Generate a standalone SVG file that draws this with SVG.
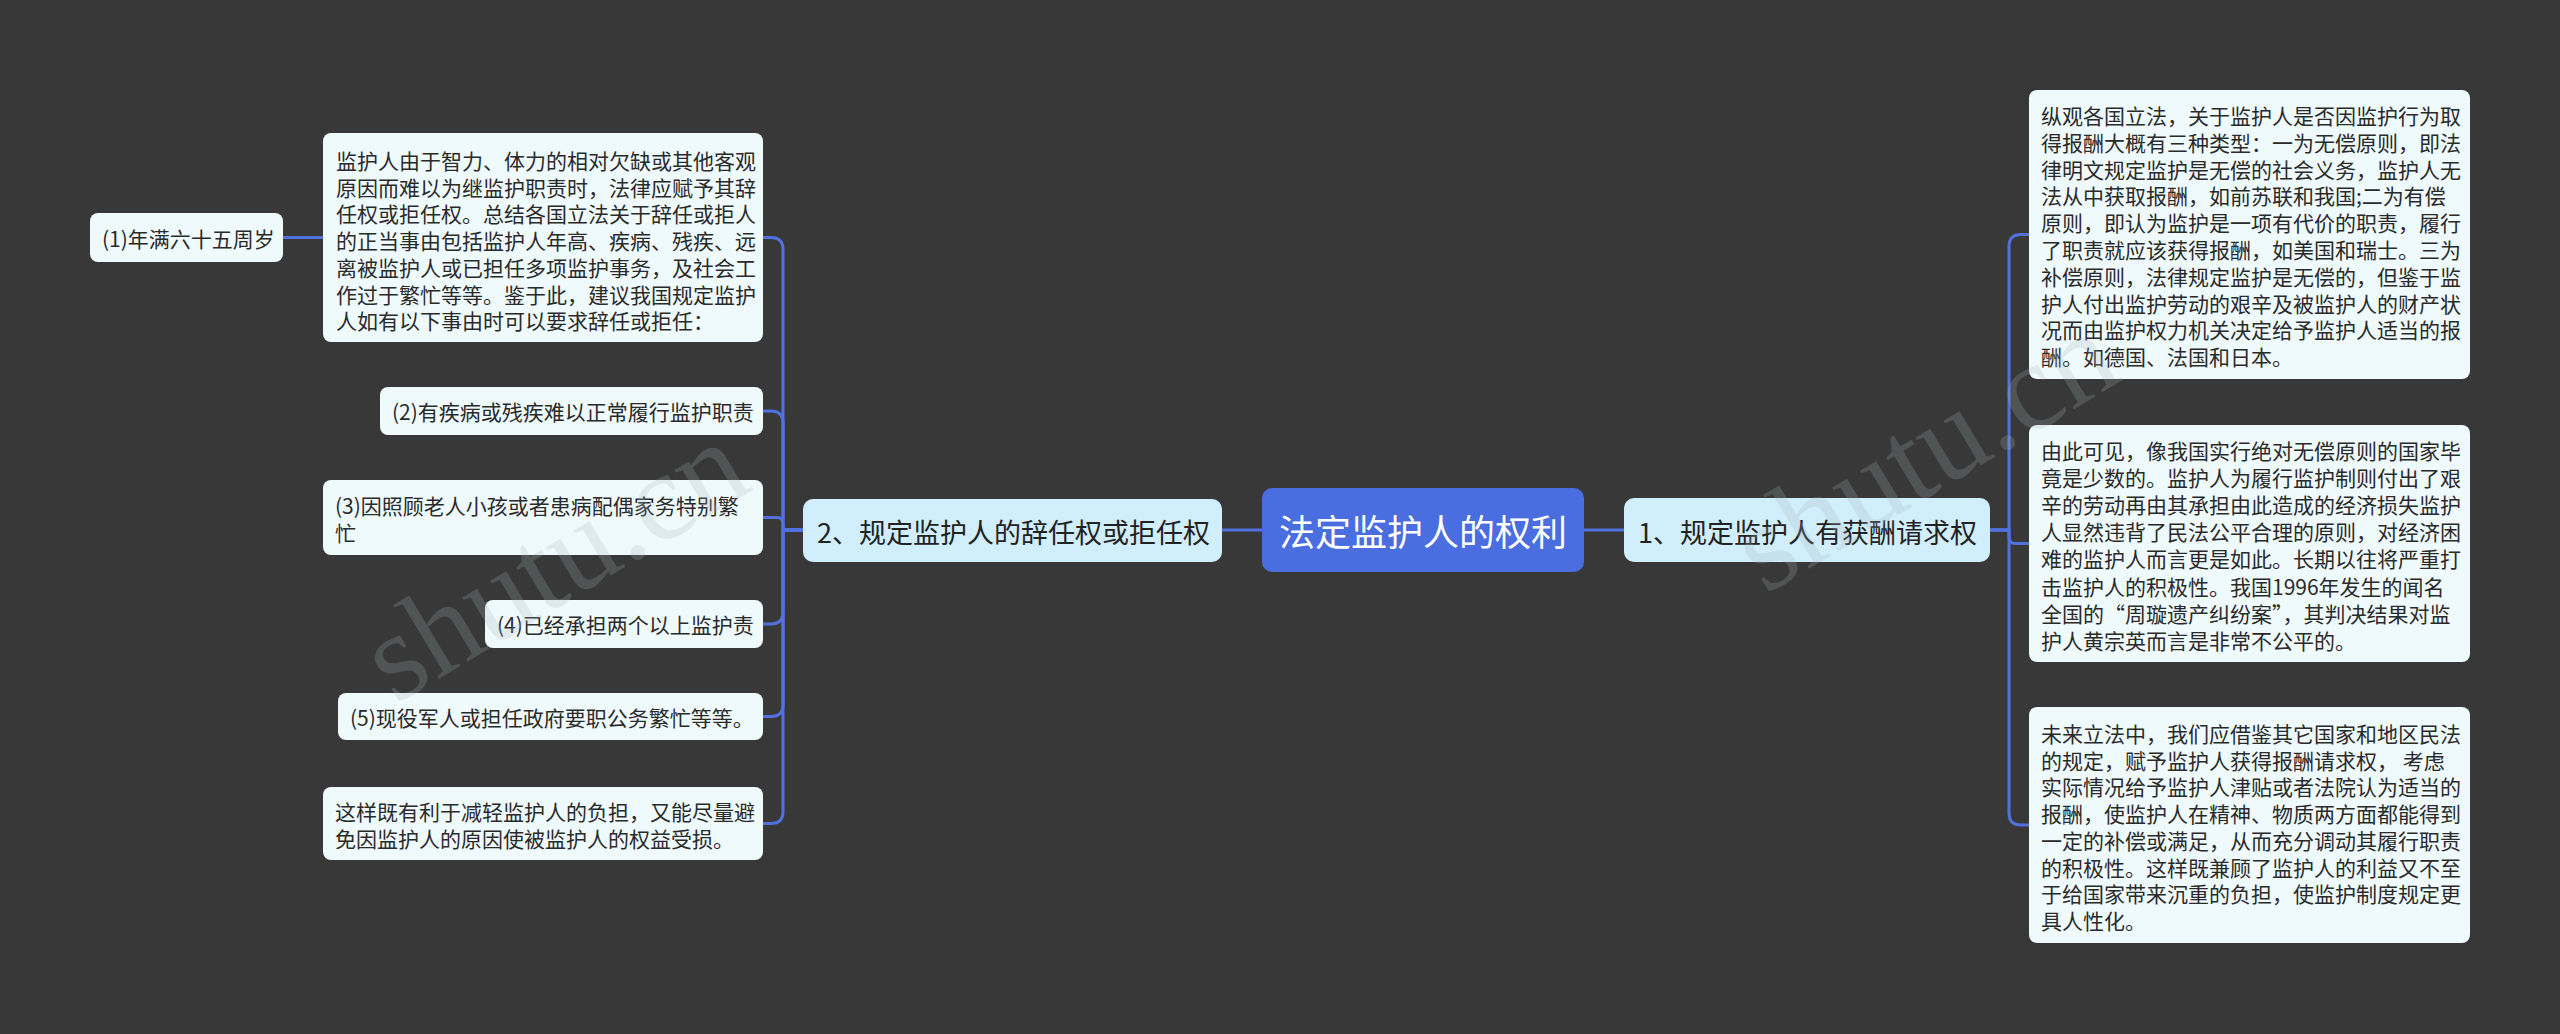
<svg xmlns="http://www.w3.org/2000/svg" width="2560" height="1034" viewBox="0 0 2560 1034">
<style>
.leaf{fill:#effafd}
.l1{fill:#d0eefb}
.root{fill:#4a6ee0}
.t{font-family:"Noto Sans CJK SC","Noto Sans",sans-serif;font-size:21px;fill:#2a2a2a;dominant-baseline:central}
.t1{font-family:"Noto Sans CJK SC","Noto Sans",sans-serif;font-size:27px;fill:#222;dominant-baseline:central}
.t0{font-family:"Noto Sans CJK SC","Noto Sans",sans-serif;font-size:36px;fill:#fff;dominant-baseline:central;text-anchor:middle}
.conn path{fill:none;stroke:#5271e0;stroke-width:3}
.wm{font-family:"Liberation Serif",serif;font-size:125px;fill:#a8b6ba;opacity:0.22}
</style>
<rect width="2560" height="1034" fill="#383838"/>
<g id="connectors" class="conn">
<path d="M1262 530 H1222"/>
<path d="M1584 530 H1624"/>
<path d="M323 237.5 H283"/>
<path d="M803 530 H783 V249.5 Q783 237.5 771 237.5 H763"/>
<path d="M803 530 H783 V423 Q783 411 771 411 H763"/>
<path d="M803 530 H783 V523.5 Q783 517.5 777 517.5 H763"/>
<path d="M803 530 H783 V612 Q783 624 771 624 H763"/>
<path d="M803 530 H783 V704.5 Q783 716.5 771 716.5 H763"/>
<path d="M803 530 H783 V811.5 Q783 823.5 771 823.5 H763"/>
<path d="M1990 530 H2009 V246.5 Q2009 234.5 2021 234.5 H2029"/>
<path d="M1990 530 H2009 V537 Q2009 543.5 2015.5 543.5 H2029"/>
<path d="M1990 530 H2009 V813 Q2009 825 2021 825 H2029"/>
</g>
<g id="root">
<rect class="root" x="1262" y="488" width="322" height="84" rx="10"/>
<text class="t0" x="1423" y="530">法定监护人的权利</text>
</g>
<g id="n2">
<rect class="l1" x="803" y="499" width="419" height="63" rx="10"/>
<text class="t1" x="817" y="531">2、规定监护人的辞任权或拒任权</text>
</g>
<g id="n1">
<rect class="l1" x="1624" y="498" width="366" height="64" rx="10"/>
<text class="t1" x="1638" y="531">1、规定监护人有获酬请求权</text>
</g>
<g id="n2-desc">
<rect class="leaf" x="323" y="133" width="440" height="209" rx="8"/>
<text class="t"><tspan x="336" y="160">监护人由于智力、体力的相对欠缺或其他客观</tspan><tspan x="336" y="186.7">原因而难以为继监护职责时，法律应赋予其辞</tspan><tspan x="336" y="213.4">任权或拒任权。总结各国立法关于辞任或拒人</tspan><tspan x="336" y="240.1">的正当事由包括监护人年高、疾病、残疾、远</tspan><tspan x="336" y="266.8">离被监护人或已担任多项监护事务，及社会工</tspan><tspan x="336" y="293.5">作过于繁忙等等。鉴于此，建议我国规定监护</tspan><tspan x="336" y="320.2">人如有以下事由时可以要求辞任或拒任：</tspan></text>
</g>
<g id="n2-1">
<rect class="leaf" x="90" y="213" width="193" height="49" rx="8"/>
<text class="t" x="102" y="237.5">(1)年满六十五周岁</text>
</g>
<g id="n2-2">
<rect class="leaf" x="380" y="387" width="383" height="48" rx="8"/>
<text class="t" x="392" y="411">(2)有疾病或残疾难以正常履行监护职责</text>
</g>
<g id="n2-3">
<rect class="leaf" x="323" y="480" width="440" height="75" rx="8"/>
<text class="t"><tspan x="335" y="505">(3)因照顾老人小孩或者患病配偶家务特别繁</tspan><tspan x="335" y="531.5">忙</tspan></text>
</g>
<g id="n2-4">
<rect class="leaf" x="485" y="600" width="278" height="48" rx="8"/>
<text class="t" x="497" y="624">(4)已经承担两个以上监护责</text>
</g>
<g id="n2-5">
<rect class="leaf" x="338" y="693" width="425" height="47" rx="8"/>
<text class="t" x="350" y="716.5">(5)现役军人或担任政府要职公务繁忙等等。</text>
</g>
<g id="n2-6">
<rect class="leaf" x="323" y="787" width="440" height="73" rx="8"/>
<text class="t"><tspan x="335" y="811">这样既有利于减轻监护人的负担，又能尽量避</tspan><tspan x="335" y="837.5">免因监护人的原因使被监护人的权益受损。</tspan></text>
</g>
<g id="n1-1">
<rect class="leaf" x="2029" y="90" width="441" height="289" rx="8"/>
<text class="t"><tspan x="2041" y="115">纵观各国立法，关于监护人是否因监护行为取</tspan><tspan x="2041" y="141.8">得报酬大概有三种类型：一为无偿原则，即法</tspan><tspan x="2041" y="168.6">律明文规定监护是无偿的社会义务，监护人无</tspan><tspan x="2041" y="195.4">法从中获取报酬，如前苏联和我国;二为有偿</tspan><tspan x="2041" y="222.2">原则，即认为监护是一项有代价的职责，履行</tspan><tspan x="2041" y="249">了职责就应该获得报酬，如美国和瑞士。三为</tspan><tspan x="2041" y="275.8">补偿原则，法律规定监护是无偿的，但鉴于监</tspan><tspan x="2041" y="302.6">护人付出监护劳动的艰辛及被监护人的财产状</tspan><tspan x="2041" y="329.4">况而由监护权力机关决定给予监护人适当的报</tspan><tspan x="2041" y="356.2">酬。如德国、法国和日本。</tspan></text>
</g>
<g id="n1-2">
<rect class="leaf" x="2029" y="425" width="441" height="237" rx="8"/>
<text class="t"><tspan x="2041" y="450">由此可见，像我国实行绝对无偿原则的国家毕</tspan><tspan x="2041" y="477.1">竟是少数的。监护人为履行监护制则付出了艰</tspan><tspan x="2041" y="504.2">辛的劳动再由其承担由此造成的经济损失监护</tspan><tspan x="2041" y="531.3">人显然违背了民法公平合理的原则，对经济困</tspan><tspan x="2041" y="558.4">难的监护人而言更是如此。长期以往将严重打</tspan><tspan x="2041" y="585.5">击监护人的积极性。我国1996年发生的闻名</tspan><tspan x="2041" y="612.6">全国的“周璇遗产纠纷案”，其判决结果对监</tspan><tspan x="2041" y="639.7">护人黄宗英而言是非常不公平的。</tspan></text>
</g>
<g id="n1-3">
<rect class="leaf" x="2029" y="707" width="441" height="236" rx="8"/>
<text class="t"><tspan x="2041" y="733">未来立法中，我们应借鉴其它国家和地区民法</tspan><tspan x="2041" y="759.7">的规定，赋予监护人获得报酬请求权， 考虑</tspan><tspan x="2041" y="786.4">实际情况给予监护人津贴或者法院认为适当的</tspan><tspan x="2041" y="813.1">报酬，使监护人在精神、物质两方面都能得到</tspan><tspan x="2041" y="839.8">一定的补偿或满足，从而充分调动其履行职责</tspan><tspan x="2041" y="866.5">的积极性。这样既兼顾了监护人的利益又不至</tspan><tspan x="2041" y="893.2">于给国家带来沉重的负担，使监护制度规定更</tspan><tspan x="2041" y="919.9">具人性化。</tspan></text>
</g>
<g id="watermark">
<text class="wm" transform="translate(395 705) rotate(-31)">shutu.cn</text>
<text class="wm" transform="translate(1765 595) rotate(-31)">shutu.cn</text>
</g>
</svg>
